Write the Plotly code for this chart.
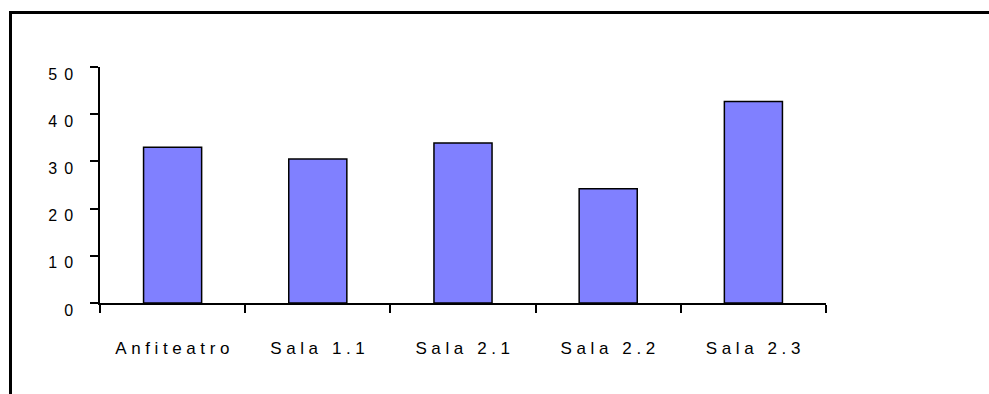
import plotly.graph_objects as go

# Room occupancy by room
rooms = ["Anfiteatro", "Sala 1.1", "Sala 2.1", "Sala 2.2", "Sala 2.3"]
values = [33.0, 30.5, 33.9, 24.2, 42.7]
y_ticks = [0, 10, 20, 30, 40, 50]

W, H = 989, 394
L, R, T, B = 100, 163, 67, 91
plot_w = W - L - R
plot_h = H - T - B

fig = go.Figure(
    go.Bar(
        x=rooms,
        y=values,
        width=0.4,
        marker=dict(color="#8080FF", line=dict(color="black", width=1.5)),
        hoverinfo="skip",
    )
)

x_font = dict(family="Liberation Sans, Arial, sans-serif", size=17, color="black")
y_font = dict(family="Liberation Sans, Arial, sans-serif", size=16, color="black")

fig.update_xaxes(
    type="category",
    range=[-0.5, len(rooms) - 0.5],
    showline=True,
    linecolor="black",
    linewidth=1.5,
    ticks="outside",
    tickson="boundaries",
    ticklen=8,
    tickwidth=1.5,
    tickcolor="black",
    showgrid=False,
    zeroline=False,
    tickfont=x_font,
    ticklabelstandoff=29,
    ticklabelshift=2,
    automargin=False,
)
fig.update_yaxes(
    range=[0, 50],
    tickvals=y_ticks,
    ticktext=[str(v) for v in y_ticks],
    showline=True,
    linecolor="black",
    linewidth=1.5,
    ticks="outside",
    ticklen=8,
    tickwidth=1.5,
    tickcolor="black",
    showgrid=False,
    zeroline=False,
    tickfont=y_font,
    ticklabelstandoff=7,
    ticklabelshift=7,
    automargin=False,
)

# outer frame, running off the right and bottom edges
def px_to_paper_x(px):
    return (px - L) / plot_w

def px_to_paper_y(py):
    return (H - B - py) / plot_h

fig.add_shape(
    type="rect",
    xref="paper", yref="paper",
    x0=px_to_paper_x(10.5), x1=px_to_paper_x(W + 20),
    y0=px_to_paper_y(H + 20), y1=px_to_paper_y(12.5),
    line=dict(color="black", width=3),
    fillcolor="rgba(0,0,0,0)",
    layer="above",
)

fig.update_layout(
    width=W,
    height=H,
    margin=dict(l=L, r=R, t=T, b=B, pad=0),
    paper_bgcolor="white",
    plot_bgcolor="white",
    showlegend=False,
)

spacing_css = (
    "var s=document.createElement('style');"
    "s.textContent='.xtick text{letter-spacing:4.6px} .ytick text{letter-spacing:7px}';"
    "document.head.appendChild(s);"
)

fig.write_html("out.html", post_script=spacing_css, config={"displayModeBar": False})
